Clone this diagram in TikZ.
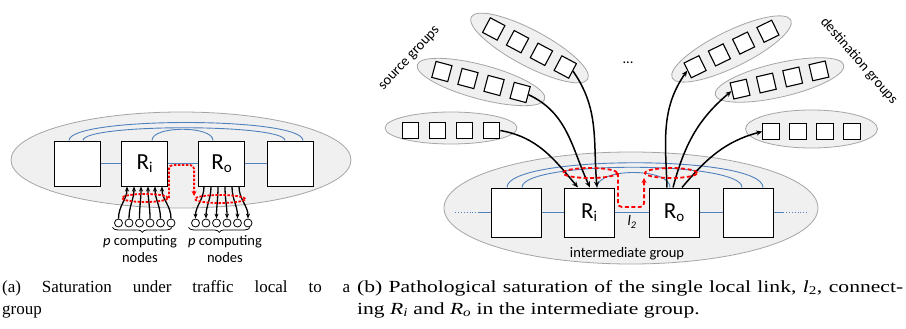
\documentclass[tikz,border=0pt]{standalone}
\usepackage{fontspec}
\setmainfont{Carlito}
\newfontfamily\capfont{Liberation Serif}
\newfontfamily\capwide[FakeStretch=1.27]{Liberation Serif}
\usetikzlibrary{shapes.geometric,arrows.meta,decorations.pathreplacing}

\definecolor{grpfill}{RGB}{240,240,240}
\definecolor{grpline}{RGB}{165,165,165}
\definecolor{linkblue}{RGB}{79,129,189}

\tikzset{
  group/.style={draw=grpline, fill=grpfill, line width=0.8pt},
  router/.style={draw=black, fill=white, line width=1pt, minimum width=46pt, minimum height=45pt, inner sep=0pt},
  bigrouter/.style={router, minimum width=50pt, minimum height=49pt},
  smallrouter/.style={draw=black, fill=white, line width=1.1pt, minimum size=16.5pt, inner sep=0pt},
  compnode/.style={shape=circle, draw=black, fill=white, line width=0.8pt, minimum size=8pt, inner sep=0pt},
  link/.style={draw=linkblue, line width=0.9pt},
  inject/.style={draw=black, line width=1.3pt, -{Stealth[length=5pt,width=4pt]}},
  route/.style={draw=black, line width=1.5pt, -{Stealth[length=6pt,width=5pt]}},
  satloop/.style={shape=ellipse, draw=red, line width=1.8pt, dash pattern=on 2.5pt off 1.5pt, inner sep=0pt},
  satpath/.style={draw=red, line width=1.8pt, dash pattern=on 2.5pt off 1.5pt, rounded corners=4pt, -{Stealth[length=5pt,width=5pt]}},
  lbl/.style={font=\fontsize{14.5}{17}\selectfont, align=center, inner sep=0pt},
  capt/.style={font=\capfont\fontsize{17}{22}\selectfont, align=justify, inner sep=0pt, anchor=north west},
}

\newcommand{\rname}[1]{{\fontsize{23}{23}\selectfont R}\raisebox{-3pt}{\fontsize{15}{15}\selectfont #1}}

\begin{document}
\begin{tikzpicture}[x=1pt,y=1pt]
	\useasboundingbox[fill=white] (0,0) rectangle (906,-329);
	
	\draw[group] (181,-160) ellipse [x radius=170, y radius=48];
	\node[router] (a1)  at (77,-163.5)    {};
	\node[router] (ari) at (144.5,-163.5) {\rname{i}};
	\node[router] (aro) at (221.5,-163.5) {\rname{o}};
	\node[router] (a4)  at (290,-163.5)   {};
	\draw[link] (a1) -- (ari) (ari) -- (aro) (aro) -- (a4);
	\draw[link] ([xshift=-8pt]a1.north) .. controls +(0,24) and +(0,24) .. ([xshift=13pt]a4.north);
	\draw[link] ([xshift=6pt]a1.north) .. controls +(0,17) and +(0,17) .. ([xshift=-5pt]a4.north);
	\draw[link] ([xshift=7.5pt]ari.north) .. controls +(0,15) and +(0,15) .. ([xshift=-8.5pt]aro.north);
	\foreach \i in {0,...,5} {
		\node[compnode] (cl\i) at ({118.5+10.5*\i},-223) {};
		\node[compnode] (cr\i) at ({195.5+10.5*\i},-223) {};
		\draw[inject] (cl\i.north) to[out=90,in=-90] ([xshift=(-17.5+7*\i)*1pt]ari.south);
		\draw[inject] ([xshift=(-17.5+7*\i)*1pt]aro.south) to[out=-90,in=90] (cr\i.north);
	}
	\node[satloop, minimum width=46pt, minimum height=8pt] (rli) at (145,-198) {};
	\node[satloop, minimum width=50pt, minimum height=8pt] (rlo) at (220,-199) {};
	\coordinate (atop) at (183,-165);
	\draw[satpath] (rli.east) |- (atop) -| ([yshift=3pt]rlo.west);
	\draw[decorate, decoration={brace, mirror, amplitude=5pt}, line width=0.8pt] ([xshift=-6pt]cl0.south) -- ([xshift=1pt]cl5.south);
	\draw[decorate, decoration={brace, mirror, amplitude=5pt}, line width=0.8pt] ([xshift=-7pt]cr0.south) -- ([xshift=2pt]cr5.south);
	\node[lbl] (pl) at (140,-249) {\textit{p} computing\\nodes};
	\node[lbl] (pr) at (225,-249) {\textit{p} computing\\nodes};
	
	\draw[group] (631,-208) ellipse [x radius=187, y radius=56];
	\node[bigrouter] (b1)  at (516,-212.5) {};
	\node[bigrouter] (bri) at (589,-212.5) {\rname{i}};
	\node[bigrouter] (bro) at (674,-212.5) {\rname{o}};
	\node[bigrouter] (b4)  at (748,-212.5) {};
	\coordinate (bl0) at (455,-212.5);
	\coordinate (bl1) at (478,-212.5);
	\coordinate (br1) at (783,-212.5);
	\coordinate (br2) at (808,-212.5);
	\draw[link] (bl1) -- (b1.west) (b1) -- (bri) (bri) -- (bro) (bro) -- (b4) (b4.east) -- (br1);
	\draw[link, dotted] (bl0) -- (bl1) (br1) -- (br2);
	\draw[link] ([xshift=-9pt]b1.north) .. controls +(0,33) and +(0,33) .. ([xshift=15pt]b4.north);
	\draw[link] ([xshift=6pt]b1.north) .. controls +(0,27) and +(0,27) .. ([xshift=-6pt]b4.north);
	\draw[link] ([xshift=8pt]bri.north) .. controls +(0,20) and +(0,20) .. ([xshift=-4pt]bro.north);
	
	\begin{scope}[shift={(451,-128)}]
		\draw[group] (0,0) ellipse [x radius=66, y radius=16];
		\foreach \i in {0,...,3} \node[smallrouter] (s1\i) at ({-40.5+27*\i},-2.5) {};
	\end{scope}
	\begin{scope}[shift={(481,-82)}, rotate=-15, transform shape]
		\draw[group] (0,0) ellipse [x radius=66, y radius=17];
		\foreach \i in {0,...,3} \node[smallrouter] (s2\i) at ({-40.5+27*\i},0) {};
	\end{scope}
	\begin{scope}[shift={(529.5,-48)}, rotate=-28, transform shape]
		\draw[group] (0,0) ellipse [x radius=66, y radius=18];
		\foreach \i in {0,...,3} \node[smallrouter] (s3\i) at ({-40.5+27*\i},0) {};
	\end{scope}
	\begin{scope}[shift={(731.5,-49)}, rotate=26, transform shape]
		\draw[group] (0,0) ellipse [x radius=66, y radius=18];
		\foreach \i in {0,...,3} \node[smallrouter] (d1\i) at ({-40.5+27*\i},0) {};
	\end{scope}
	\begin{scope}[shift={(779.5,-80)}, rotate=13, transform shape]
		\draw[group] (0,0) ellipse [x radius=66, y radius=17];
		\foreach \i in {0,...,3} \node[smallrouter] (d2\i) at ({-40.5+27*\i},0) {};
	\end{scope}
	\begin{scope}[shift={(811.5,-129)}]
		\draw[group] (0,0) ellipse [x radius=66, y radius=19];
		\foreach \i in {0,...,3} \node[smallrouter] (d3\i) at ({-40.5+27*\i},-2.5) {};
	\end{scope}
	
	\draw[route] (s13.east) to[out=-10,in=130] ([xshift=-11pt]bri.north);
	\draw[route] (s23.east) to[out=-25,in=115] ([xshift=1pt]bri.north);
	\draw[route] (s33.east) to[out=-55,in=95] ([xshift=8pt]bri.north);
	\draw[route] ([xshift=-7pt]bro.north) to[out=92,in=235] (d10.west);
	\draw[route] ([xshift=-1pt]bro.north) to[out=75,in=220] (d20.west);
	\draw[route] ([xshift=8pt]bro.north) to[out=50,in=195] (d30.west);
	
	\node[satloop, minimum width=54pt, minimum height=10pt, dash pattern=on 4pt off 2.5pt] (rbi) at (590,-173) {};
	\node[satloop, minimum width=52pt, minimum height=10pt, dash pattern=on 4pt off 2.5pt] (rbo) at (671,-173) {};
	\coordinate (bbot) at (631,-207);
	\draw[satpath, dash pattern=on 4pt off 2.5pt] (rbi.east) |- (bbot) -| ([yshift=-5pt]rbo.west);
	
	\node[lbl] (lt) at (632,-222) {\textit{l}\textsubscript{\textit{2}}};
	\node[lbl] (ig) at (627,-254) {intermediate group};
	\node[lbl, rotate=47] (sg) at (410,-59) {source groups};
	\node[lbl, rotate=-49] (dg) at (859,-61) {destination groups};
	\node[lbl] (dots) at (628,-63) {...};
	
	\node[capt, text width=348pt] (capa) at (2,-280) {(a) Saturation under traffic local to a\linebreak group};
	\node[capt, text width=546pt, font=\capwide\fontsize{17}{22}\selectfont] (capb) at (357,-280) {(b) Pathological saturation of the single local link, \textit{l}\textsubscript{2}, connect-\linebreak ing \textit{R\textsubscript{i}} and \textit{R\textsubscript{o}} in the intermediate group.};
	
\end{tikzpicture}
\end{document}
